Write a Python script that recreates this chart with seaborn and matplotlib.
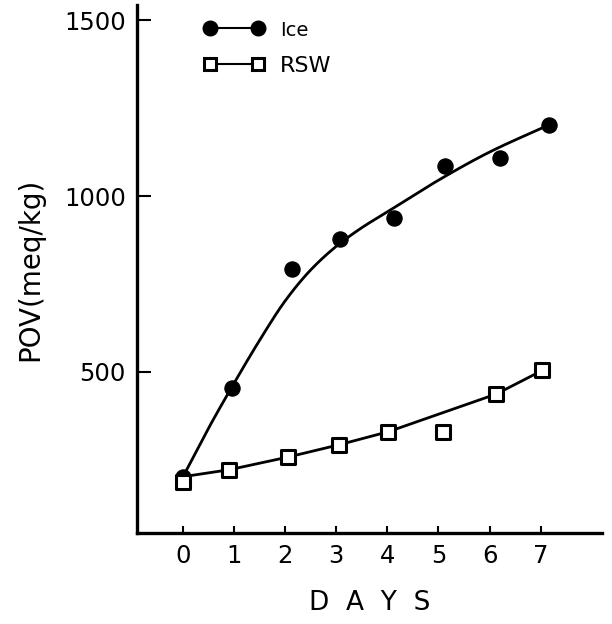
import numpy as np
import matplotlib
matplotlib.use("Agg")
import matplotlib.pyplot as plt
import seaborn as sns
from matplotlib.lines import Line2D

# ---- data ----
ice_days = [0, 0.95, 2.13, 3.07, 4.12, 5.13, 6.2, 7.16]
ice_pov = [202, 455, 793, 878, 937, 1085, 1107, 1202]
rsw_days = [0, 0.91, 2.06, 3.06, 4.02, 5.09, 6.13, 7.03]
rsw_pov = [188, 222, 258, 293, 330, 329, 437, 504]
# hand-drawn trend curve (Ice) and connecting line (RSW)
ice_curve_days = [0, 0.5, 1, 1.5, 2, 2.5, 3, 3.5, 4, 5, 6, 7.16]
ice_curve_pov = [202, 340, 468, 590, 702, 790, 857, 910, 955, 1045, 1125, 1202]
rsw_line_days = [0, 0.91, 2.06, 3.06, 4.02, 6.13, 7.03]
rsw_line_pov = [202, 222, 258, 293, 330, 437, 504]
x_ticks = [0, 1, 2, 3, 4, 5, 6, 7]
y_ticks = [500, 1000, 1500]
series_labels = ["Ice", "RSW"]


def pchip(x, y, xs):
    x = np.asarray(x, float)
    y = np.asarray(y, float)
    h = np.diff(x)
    d = np.diff(y) / h
    m = np.zeros_like(y)
    for k in range(1, len(x) - 1):
        if d[k - 1] * d[k] > 0:
            w1 = 2 * h[k] + h[k - 1]
            w2 = h[k] + 2 * h[k - 1]
            m[k] = (w1 + w2) / (w1 / d[k - 1] + w2 / d[k])
    m[0] = d[0]
    m[-1] = d[-1]
    idx = np.clip(np.searchsorted(x, xs) - 1, 0, len(h) - 1)
    t = (xs - x[idx]) / h[idx]
    h00 = 2 * t**3 - 3 * t**2 + 1
    h10 = t**3 - 2 * t**2 + t
    h01 = -2 * t**3 + 3 * t**2
    h11 = t**3 - t**2
    return h00 * y[idx] + h10 * h[idx] * m[idx] + h01 * y[idx + 1] + h11 * h[idx] * m[idx + 1]


sns.set_style("ticks")
plt.rcParams["font.family"] = ["DejaVu Sans"]
plt.rcParams["text.color"] = "black"
plt.rcParams["axes.labelcolor"] = "black"
plt.rcParams["xtick.color"] = "black"
plt.rcParams["ytick.color"] = "black"

fig = plt.figure(figsize=(6.12, 6.24), dpi=100)
ax = fig.add_axes([137 / 612, 1 - 533 / 624, (602 - 137) / 612, (533 - 5) / 624])

xs = np.linspace(ice_curve_days[0], ice_curve_days[-1], 400)
ys = pchip(ice_curve_days, ice_curve_pov, xs)
sns.lineplot(x=xs, y=ys, color="black", lw=2.0, ax=ax, estimator=None)
sns.lineplot(x=rsw_line_days, y=rsw_line_pov, color="black", lw=2.0, ax=ax,
             estimator=None, sort=False)

sns.scatterplot(x=ice_days, y=ice_pov, marker="o", s=120, color="black",
                edgecolor="black", ax=ax, zorder=5)
sns.scatterplot(x=rsw_days, y=rsw_pov, marker="s", s=90, facecolor="white",
                edgecolor="black", linewidth=2.2, ax=ax, zorder=5)

ax.set_xlim(-0.9, 8.2)
ax.set_ylim(42, 1543)
ax.set_xticks(x_ticks)
ax.set_yticks(y_ticks)
ax.tick_params(axis="y", direction="in", length=10, width=1.5, labelsize=17.5, pad=8)
ax.tick_params(axis="x", direction="in", length=5, width=1.5, labelsize=17.5, pad=8)
for s in ["top", "right"]:
    ax.spines[s].set_visible(False)
for s in ["left", "bottom"]:
    ax.spines[s].set_linewidth(2.4)
    ax.spines[s].set_color("black")

ax.set_xlabel("D  A  Y  S", fontsize=19, labelpad=16)
ax.set_ylabel("POV(meq/kg)", fontsize=20, labelpad=14)

handles = [
    Line2D([0], [0], color="black", lw=1.5, marker="o", ms=10.5),
    Line2D([0], [0], color="black", lw=1.5, marker="s", ms=8.5,
           mfc="white", mec="black", mew=2.2),
]
leg = ax.legend(handles, series_labels, loc="upper left",
                bbox_to_anchor=(203 / 612, 1 - 20 / 624),
                bbox_transform=fig.transFigure, frameon=False, numpoints=2,
                handlelength=2.77, handletextpad=0.7, fontsize=16,
                labelspacing=0.75, borderpad=0, borderaxespad=0)
leg.get_texts()[0].set_fontsize(14)

fig.savefig("out.png", dpi=100, facecolor="white")
